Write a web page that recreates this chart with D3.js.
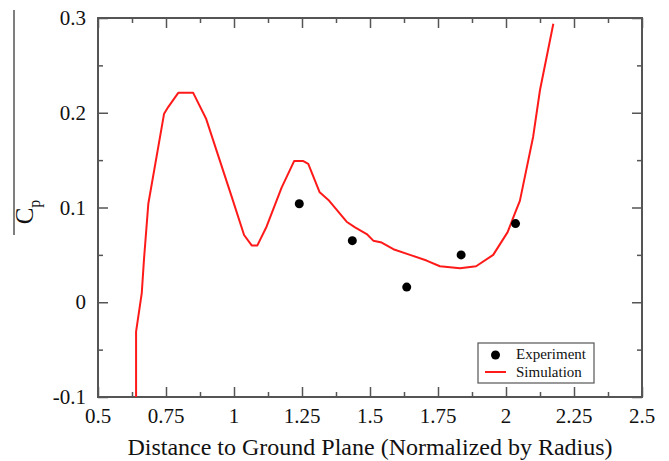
<!DOCTYPE html>
<html>
<head>
<meta charset="utf-8">
<script src="https://cdn.jsdelivr.net/npm/d3@7"></script>
<style>
  body { margin: 0; background: #fff; }
  svg text { font-family: "Liberation Serif", "DejaVu Serif", serif; fill: #111; }
  .frame line, .frame rect { stroke: #555; }
</style>
</head>
<body>
<div class="chart"></div>
<script>
// simulation curve (distance, Cp)
const simX = [0.640, 0.640, 0.661, 0.669, 0.685, 0.743, 0.758, 0.795, 0.850, 0.897, 0.992, 1.037, 1.065, 1.086, 1.120, 1.175, 1.221, 1.255, 1.273, 1.315, 1.347, 1.414, 1.445, 1.488, 1.512, 1.543, 1.586, 1.647, 1.708, 1.757, 1.831, 1.890, 1.953, 2.006, 2.033, 2.051, 2.100, 2.125, 2.174];
const simY = [-0.100, -0.031, 0.010, 0.045, 0.104, 0.199, 0.206, 0.221, 0.221, 0.194, 0.111, 0.071, 0.060, 0.060, 0.080, 0.121, 0.149, 0.149, 0.146, 0.116, 0.108, 0.085, 0.079, 0.072, 0.065, 0.063, 0.056, 0.050, 0.044, 0.038, 0.036, 0.038, 0.050, 0.074, 0.094, 0.107, 0.175, 0.224, 0.294];

// experiment points
const expX = [1.24, 1.435, 1.635, 1.835, 2.035];
const expY = [0.104, 0.065, 0.016, 0.050, 0.083];

const xTicks = [0.5, 0.75, 1, 1.25, 1.5, 1.75, 2, 2.25, 2.5];
const xTickLabels = ["0.5", "0.75", "1", "1.25", "1.5", "1.75", "2", "2.25", "2.5"];
const yTicks = [-0.1, 0, 0.1, 0.2, 0.3];
const yTickLabels = ["-0.1", "0", "0.1", "0.2", "0.3"];
const legendNames = ["Experiment", "Simulation"];

const width = 669, height = 461;
const margin = {left: 98, top: 18, right: 27, bottom: 64};
const w = width - margin.left - margin.right;
const h = height - margin.top - margin.bottom;

const svg = d3.select(".chart").append("svg")
    .attr("width", width)
    .attr("height", height);

const g = svg.append("g").attr("transform", `translate(${margin.left},${margin.top})`);

const x = d3.scaleLinear().domain([0.5, 2.5]).range([0, w]);
const y = d3.scaleLinear().domain([-0.1, 0.3]).range([h, 0]);

const xMinor = d3.range(0.625, 2.5, 0.25);
const yMinor = d3.range(-0.05, 0.3, 0.1);

const frame = g.append("g").classed("frame", true);

function ticks(axis, scale, vals, size) {
    return axis(scale)
        .tickValues(vals)
        .tickSize(size)
        .tickFormat("");
}

// bottom / top
frame.append("g").attr("transform", `translate(0,${h})`).call(ticks(d3.axisTop, x, xTicks, 10));
frame.append("g").attr("transform", `translate(0,${h})`).call(ticks(d3.axisTop, x, xMinor, 5));
frame.append("g").call(ticks(d3.axisBottom, x, xTicks, 10));
frame.append("g").call(ticks(d3.axisBottom, x, xMinor, 5));
// left / right
frame.append("g").call(ticks(d3.axisRight, y, yTicks, 10));
frame.append("g").call(ticks(d3.axisRight, y, yMinor, 5));
frame.append("g").attr("transform", `translate(${w},0)`).call(ticks(d3.axisLeft, y, yTicks, 10));
frame.append("g").attr("transform", `translate(${w},0)`).call(ticks(d3.axisLeft, y, yMinor, 5));

frame.selectAll(".domain").remove();
frame.selectAll(".tick line").attr("stroke", "#555").attr("stroke-width", 1.5);

frame.append("rect")
    .attr("width", w)
    .attr("height", h)
    .attr("fill", "none")
    .attr("stroke-width", 2);

// tick labels
g.selectAll(".xlab")
    .data(xTicks)
    .enter()
    .append("text")
    .attr("x", d => x(d))
    .attr("y", h + 26)
    .attr("text-anchor", "middle")
    .style("font-size", "21px")
    .text((d, i) => xTickLabels[i]);

g.selectAll(".ylab")
    .data(yTicks)
    .enter()
    .append("text")
    .attr("x", -12)
    .attr("y", d => y(d) + 7)
    .attr("text-anchor", "end")
    .style("font-size", "21px")
    .text((d, i) => yTickLabels[i]);

// axis titles
svg.append("text")
    .attr("x", margin.left + w / 2)
    .attr("y", 455)
    .attr("text-anchor", "middle")
    .style("font-size", "24px")
    .text("Distance to Ground Plane (Normalized by Radius)");

const yt = svg.append("text")
    .attr("transform", "translate(33,212) rotate(-90)")
    .attr("text-anchor", "middle")
    .style("font-size", "25px");
yt.append("tspan").text("C");
yt.append("tspan").attr("dy", 7).style("font-size", "16px").text("p");

svg.append("line")
    .attr("x1", 14).attr("x2", 14)
    .attr("y1", 10).attr("y2", 235)
    .attr("stroke", "#555")
    .attr("stroke-width", 1.5);

// simulation line
const line = d3.line()
    .x(d => x(d[0]))
    .y(d => y(d[1]));

g.append("path")
    .datum(simX.map((v, i) => [v, simY[i]]))
    .attr("fill", "none")
    .attr("stroke", "#ff1a1a")
    .attr("stroke-width", 2)
    .attr("stroke-linejoin", "round")
    .attr("d", line);

// experiment dots
g.selectAll(".exp")
    .data(expX)
    .enter()
    .append("circle")
    .attr("cx", d => x(d))
    .attr("cy", (d, i) => y(expY[i]))
    .attr("r", 4.5)
    .style("fill", "#000");

// legend
const leg = svg.append("g").attr("transform", "translate(478,343)");
leg.append("rect")
    .attr("width", 116)
    .attr("height", 40)
    .attr("fill", "#fff")
    .attr("stroke", "#555")
    .attr("stroke-width", 1.2);
leg.append("circle")
    .attr("cx", 17.5).attr("cy", 12).attr("r", 4.5)
    .style("fill", "#000");
leg.append("line")
    .attr("x1", 7).attr("x2", 28)
    .attr("y1", 29).attr("y2", 29)
    .attr("stroke", "#ff1a1a")
    .attr("stroke-width", 2);
leg.selectAll(".ltxt")
    .data(legendNames)
    .enter()
    .append("text")
    .attr("x", 38)
    .attr("y", (d, i) => 16 + i * 18)
    .style("font-size", "15px")
    .text(d => d);
</script>
</body>
</html>
